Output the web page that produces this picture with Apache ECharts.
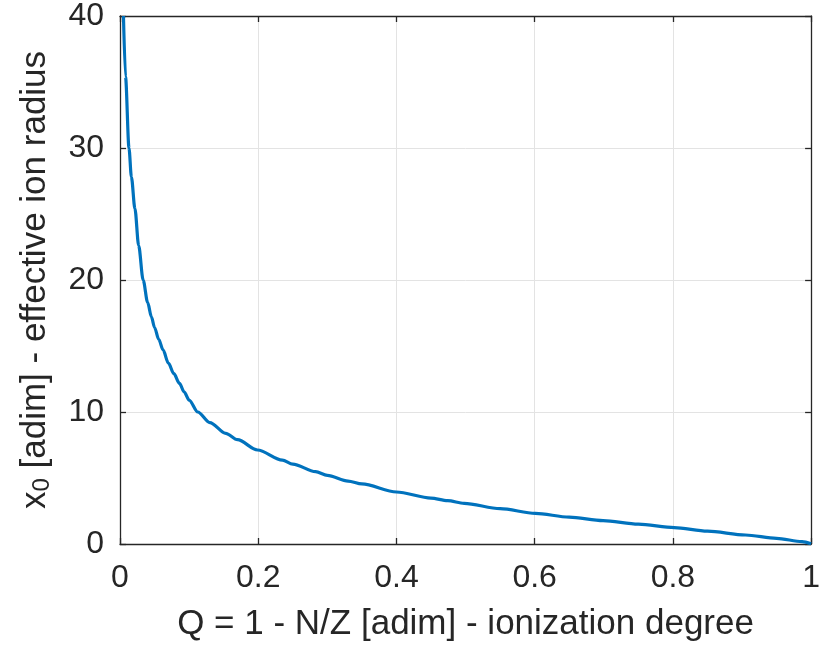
<!DOCTYPE html>
<html>
<head>
<meta charset="utf-8">
<script src="https://cdn.jsdelivr.net/npm/echarts@6/dist/echarts.min.js"></script>
<style>
html,body{margin:0;padding:0;background:#fff;}
#c{width:823px;height:650px;}
</style>
</head>
<body>
<div id="c"></div>
<script>
// Data
var qValues = [0.005, 0.008, 0.013, 0.0165, 0.0216, 0.027, 0.0335, 0.040, 0.0455, 0.050, 0.056, 0.0623, 0.070, 0.078, 0.086, 0.093, 0.100, 0.1125, 0.130, 0.153, 0.170, 0.199, 0.235, 0.250, 0.283, 0.300, 0.330, 0.350, 0.400, 0.450, 0.474, 0.498, 0.550, 0.601, 0.650, 0.699, 0.750, 0.802, 0.850, 0.905, 0.950, 0.987, 1.000];
var x0Values = [40.0, 35.4, 30.0, 27.8, 25.4, 22.6, 20.0, 18.3, 17.2, 16.4, 15.5, 14.7, 13.7, 12.9, 12.17, 11.5, 10.9, 10.0, 9.2, 8.38, 7.9, 7.12, 6.36, 6.05, 5.48, 5.2, 4.77, 4.55, 3.94, 3.48, 3.28, 3.08, 2.68, 2.32, 2.03, 1.77, 1.5, 1.24, 0.97, 0.68, 0.43, 0.18, 0.02];
var xTicks = [0, 0.2, 0.4, 0.6, 0.8, 1];
var yTicks = [0, 10, 20, 30, 40];

var FONT = "'Liberation Sans', Arial, Helvetica, sans-serif";
var TXT = '#262626';
var AX = '#262626';
var GRID = '#e3e3e3';

var seriesData = qValues.map(function (q, i) { return [q, x0Values[i]]; });

var chart = echarts.init(document.getElementById('c'), null, {renderer: 'canvas'});
var tickFmtX = function (v) { return String(Math.round(v * 10) / 10); };

chart.setOption({
  animation: false,
  backgroundColor: '#ffffff',
  grid: {left: 120, top: 16, right: 4, bottom: 106, containLabel: false},
  xAxis: [{
    type: 'value', min: xTicks[0], max: xTicks[xTicks.length - 1], interval: 0.2, position: 'bottom',
    axisLine: {show: true, onZero: false, lineStyle: {color: AX, width: 1.3}},
    axisTick: {show: true, inside: true, length: 6, lineStyle: {color: AX, width: 1.3}},
    axisLabel: {show: true, margin: 18, color: TXT, fontSize: 32, fontFamily: FONT, formatter: tickFmtX},
    splitLine: {show: true, lineStyle: {color: GRID, width: 1}},
    name: 'Q = 1 - N/Z [adim] - ionization degree',
    nameLocation: 'middle', nameGap: 63,
    nameTextStyle: {color: TXT, fontSize: 35, fontFamily: FONT}
  }, {
    type: 'value', min: xTicks[0], max: xTicks[xTicks.length - 1], interval: 0.2, position: 'top',
    axisLine: {show: true, onZero: false, lineStyle: {color: AX, width: 1.3}},
    axisTick: {show: true, inside: true, length: 6, lineStyle: {color: AX, width: 1.3}},
    axisLabel: {show: false},
    splitLine: {show: false}
  }],
  yAxis: [{
    type: 'value', min: yTicks[0], max: yTicks[yTicks.length - 1], interval: 10, position: 'left',
    axisLine: {show: true, onZero: false, lineStyle: {color: AX, width: 1.3}},
    axisTick: {show: true, inside: true, length: 6, lineStyle: {color: AX, width: 1.3}},
    axisLabel: {show: true, margin: 16, color: TXT, fontSize: 32, fontFamily: FONT},
    splitLine: {show: true, lineStyle: {color: GRID, width: 1}},
    name: 'x{sub|0} [adim] - effective ion radius',
    nameLocation: 'middle', nameGap: 66, nameRotate: 90,
    nameTextStyle: {color: TXT, fontSize: 35, fontFamily: FONT,
      rich: {sub: {fontSize: 24, fontFamily: FONT, color: TXT, verticalAlign: 'bottom', padding: [14, 0, 0, 0]}}}
  }, {
    type: 'value', min: yTicks[0], max: yTicks[yTicks.length - 1], interval: 10, position: 'right',
    axisLine: {show: true, onZero: false, lineStyle: {color: AX, width: 1.3}},
    axisTick: {show: true, inside: true, length: 6, lineStyle: {color: AX, width: 1.3}},
    axisLabel: {show: false},
    splitLine: {show: false}
  }],
  series: [{
    type: 'line', xAxisIndex: 0, yAxisIndex: 0,
    data: seriesData, showSymbol: false, symbol: 'none', smooth: 0.3, smoothMonotone: 'x', clip: true,
    lineStyle: {color: '#0072BD', width: 3.2}
  }]
});
</script>
</body>
</html>
